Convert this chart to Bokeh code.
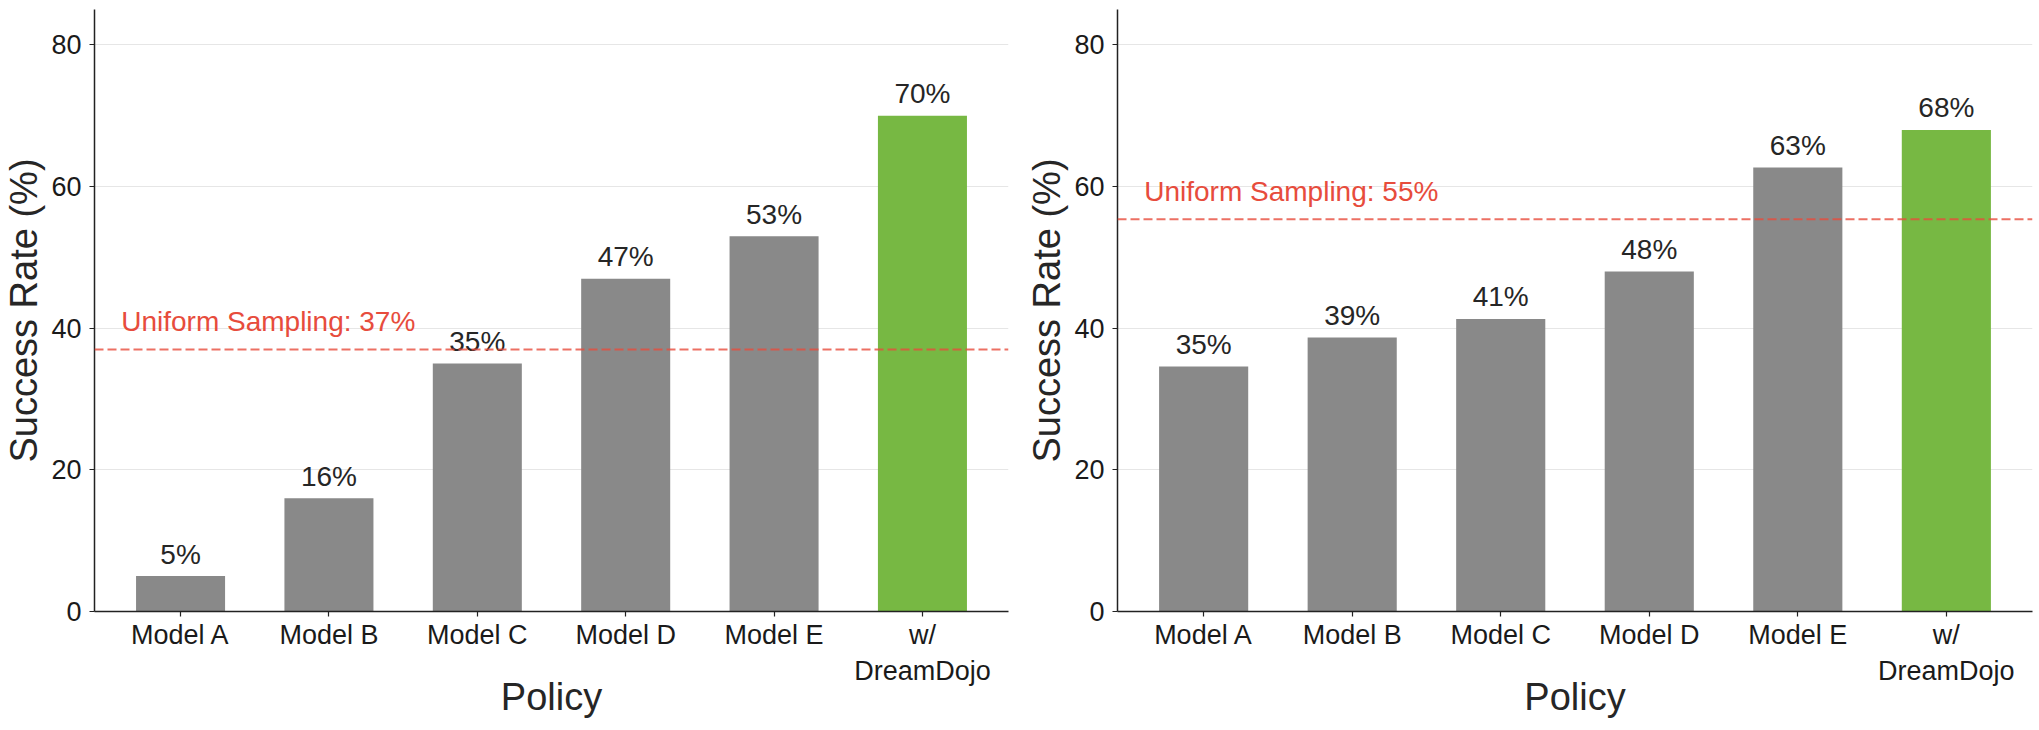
from bokeh.plotting import figure
from bokeh.layouts import row
from bokeh.models import ColumnDataSource, FixedTicker, Range1d, Span
from bokeh.embed import file_html
from bokeh.resources import INLINE
from bokeh.core.properties import value

# ---- data ----
categories = ["Model A", "Model B", "Model C", "Model D", "Model E", "w/\nDreamDojo"]
left_values = [5.0, 16.0, 35.0, 47.0, 53.0, 70.0]
right_values = [34.6, 38.7, 41.3, 48.0, 62.7, 68.0]
left_uniform = 37.0
right_uniform = 55.4
bar_colors = ["#898989", "#898989", "#898989", "#898989", "#898989", "#77b843"]
y_ticks = [0, 20, 40, 60, 80]
y_label = "Success Rate (%)"
x_label = "Policy"

FONT = "Liberation Sans"
RED = "#e74c3c"


def make_panel(values, uniform, border_left, border_right, frame_w):
    xs = list(range(len(categories)))
    src = ColumnDataSource(dict(
        x=xs, top=values, color=bar_colors,
        label=[f"{round(v)}%" for v in values],
    ))
    p = figure(
        output_backend="svg", toolbar_location=None,
        frame_width=frame_w, frame_height=602,
        min_border_left=border_left, min_border_right=border_right,
        min_border_top=9, min_border_bottom=103,
        x_range=Range1d(-0.58, len(categories) - 1 + 0.58),
        y_range=Range1d(0, 85),
        background_fill_color="white", border_fill_color="white",
    )
    p.outline_line_color = None
    p.vbar(x="x", top="top", width=0.6, source=src,
           fill_color="color", line_color=None)
    p.text(x="x", y="top", text="label", source=src,
           text_align="center", text_baseline="alphabetic", y_offset=-22,
           text_font=value(FONT), text_font_size=value("28px"),
           text_color="#262626")

    span = Span(location=uniform, dimension="width", line_color=RED,
                line_alpha=0.8, line_dash="9 4", line_width=2)
    p.add_layout(span)
    usrc = ColumnDataSource(dict(x=[-0.4], y=[uniform],
                                 t=[f"Uniform Sampling: {round(uniform)}%"]))
    p.text(x="x", y="y", text="t", source=usrc,
           text_align="left", text_baseline="alphabetic", y_offset=-28,
           text_font=value(FONT), text_font_size=value("28px"),
           text_color=RED)

    p.xgrid.visible = False
    p.ygrid.grid_line_color = "#e6e6e6"
    p.ygrid.grid_line_width = 1

    p.xaxis.ticker = FixedTicker(ticks=xs)
    p.xaxis.major_label_overrides = {i: c for i, c in enumerate(categories)}
    p.yaxis.ticker = FixedTicker(ticks=y_ticks)

    for ax in (p.xaxis, p.yaxis):
        ax.axis_line_color = "#222222"
        ax.axis_line_width = 1.5
        ax.major_tick_line_color = "#222222"
        ax.major_tick_line_width = 1.2
        ax.major_tick_in = 0
        ax.major_tick_out = 5
        ax.minor_tick_line_color = None
        ax.major_label_text_font = FONT
        ax.major_label_text_font_size = "27px"
        ax.major_label_text_color = "#1a1a1a"
        ax.axis_label_text_font = FONT
        ax.axis_label_text_font_size = "38px"
        ax.axis_label_text_font_style = "normal"
        ax.axis_label_text_color = "#262626"
    p.xaxis.axis_label = x_label
    p.yaxis.axis_label = y_label
    p.xaxis.major_label_standoff = 3
    p.yaxis.major_label_standoff = 8
    p.xaxis.axis_label_standoff = -13
    p.yaxis.axis_label_standoff = 3
    return p


p1 = make_panel(left_values, left_uniform, 88, 15, 914)
p2 = make_panel(right_values, right_uniform, 88, 3, 915)
layout = row(p1, p2)

open("out.html", "w").write(file_html(layout, INLINE))
